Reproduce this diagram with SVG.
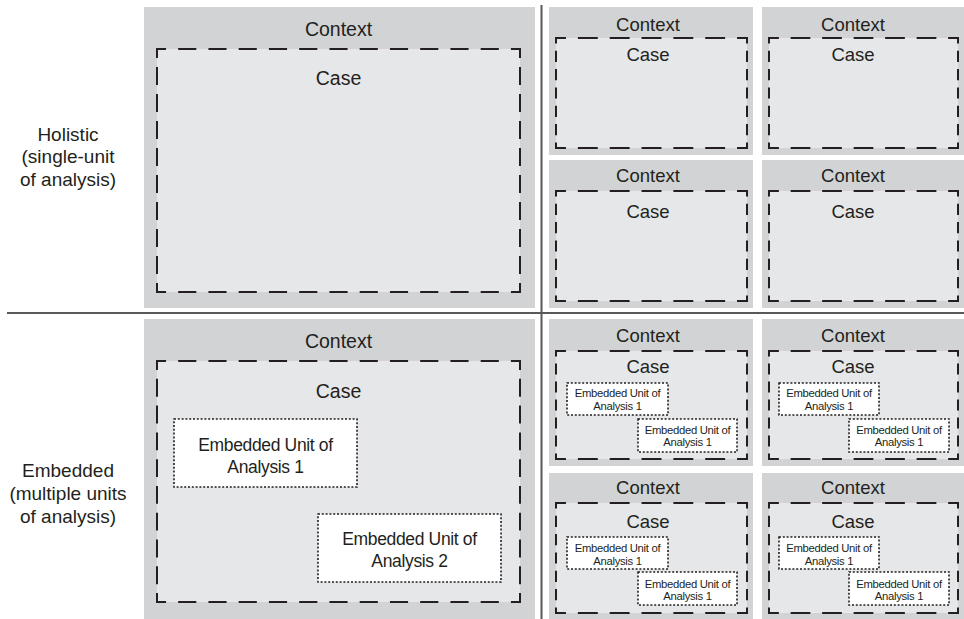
<svg xmlns="http://www.w3.org/2000/svg" width="964" height="619" viewBox="0 0 964 619">
  <defs>
    <style>
      .ctx { fill: #d1d3d4; }
      .case { fill: #e6e7e8; }
      .eu { fill: #ffffff; stroke: #231f20; stroke-width: 1.6; stroke-dasharray: 2 1.8; }
      .dh, .dv, .sh, .sv { stroke: #231f20; stroke-width: 2; fill: none; stroke-linecap: square; }
      /* big case boxes: 12 dashes across, 9 down */
      .dh { stroke-dasharray: 16 14; stroke-dashoffset: 8; }
      .dv { stroke-dasharray: 16 11; stroke-dashoffset: 8; }
      /* small case boxes: 6 dashes across, 6 down */
      .sh { stroke-dasharray: 18 14; stroke-dashoffset: 9; }
      .sv { stroke-dasharray: 9 9; stroke-dashoffset: 4.5; }
      .rule { stroke: #58595b; stroke-width: 2; fill: none; }
      text { font-family: "Liberation Sans", Arial, Helvetica, sans-serif; fill: #231f20; text-anchor: middle; }
      .t19 { font-size: 19.5px; }
      .t18 { font-size: 18.5px; }
      .t17 { font-size: 17.5px; letter-spacing: -0.35px; }
      .t11 { font-size: 11.3px; letter-spacing: -0.3px; }
      .lbl { font-size: 19px; }
    </style>
  </defs>

  <!-- row labels -->
  <g id="label-holistic">
    <text class="lbl" x="68" y="140.5">Holistic</text>
    <text class="lbl" x="68" y="163">(single-unit</text>
    <text class="lbl" x="68" y="185.5">of analysis)</text>
  </g>
  <g id="label-embedded">
    <text class="lbl" x="68" y="477">Embedded</text>
    <text class="lbl" x="68" y="500">(multiple units</text>
    <text class="lbl" x="68" y="523">of analysis)</text>
  </g>

  <!-- holistic, single case -->
  <g id="holistic-single">
    <rect class="ctx" x="144" y="7" width="391" height="301"/>
    <rect class="case" x="157" y="49" width="363" height="243"/>
    <line class="dh" x1="157" y1="49" x2="520" y2="49" pathLength="360"/>
    <line class="dh" x1="157" y1="292" x2="520" y2="292" pathLength="360"/>
    <line class="dv" x1="157" y1="49" x2="157" y2="292" pathLength="243"/>
    <line class="dv" x1="520" y1="49" x2="520" y2="292" pathLength="243"/>
    <text class="t19" x="338.5" y="36">Context</text>
    <text class="t19" x="338.5" y="85">Case</text>
  </g>

  <!-- holistic, multiple cases -->
  <g id="holistic-multi-1">
    <rect class="ctx" x="549" y="7" width="204" height="148"/>
    <rect class="case" x="556" y="38" width="191" height="110"/>
    <line class="sh" x1="556" y1="38" x2="747" y2="38" pathLength="192"/>
    <line class="sh" x1="556" y1="148" x2="747" y2="148" pathLength="192"/>
    <line class="sv" x1="556" y1="38" x2="556" y2="148" pathLength="108"/>
    <line class="sv" x1="747" y1="38" x2="747" y2="148" pathLength="108"/>
    <text class="t18" x="648" y="30.5">Context</text>
    <text class="t18" x="648" y="60.5">Case</text>
  </g>
  <g id="holistic-multi-2">
    <rect class="ctx" x="762" y="7" width="202" height="148"/>
    <rect class="case" x="769" y="38" width="189" height="110"/>
    <line class="sh" x1="769" y1="38" x2="958" y2="38" pathLength="192"/>
    <line class="sh" x1="769" y1="148" x2="958" y2="148" pathLength="192"/>
    <line class="sv" x1="769" y1="38" x2="769" y2="148" pathLength="108"/>
    <line class="sv" x1="958" y1="38" x2="958" y2="148" pathLength="108"/>
    <text class="t18" x="853" y="30.5">Context</text>
    <text class="t18" x="853" y="60.5">Case</text>
  </g>
  <g id="holistic-multi-3">
    <rect class="ctx" x="549" y="160" width="204" height="148"/>
    <rect class="case" x="556" y="191" width="191" height="110"/>
    <line class="sh" x1="556" y1="191" x2="747" y2="191" pathLength="192"/>
    <line class="sh" x1="556" y1="301" x2="747" y2="301" pathLength="192"/>
    <line class="sv" x1="556" y1="191" x2="556" y2="301" pathLength="108"/>
    <line class="sv" x1="747" y1="191" x2="747" y2="301" pathLength="108"/>
    <text class="t18" x="648" y="182.3">Context</text>
    <text class="t18" x="648" y="217.7">Case</text>
  </g>
  <g id="holistic-multi-4">
    <rect class="ctx" x="762" y="160" width="202" height="148"/>
    <rect class="case" x="769" y="191" width="189" height="110"/>
    <line class="sh" x1="769" y1="191" x2="958" y2="191" pathLength="192"/>
    <line class="sh" x1="769" y1="301" x2="958" y2="301" pathLength="192"/>
    <line class="sv" x1="769" y1="191" x2="769" y2="301" pathLength="108"/>
    <line class="sv" x1="958" y1="191" x2="958" y2="301" pathLength="108"/>
    <text class="t18" x="853" y="182.3">Context</text>
    <text class="t18" x="853" y="217.7">Case</text>
  </g>

  <!-- embedded, single case -->
  <g id="embedded-single">
    <rect class="ctx" x="144" y="319" width="391" height="300"/>
    <rect class="case" x="157" y="361" width="363" height="241"/>
    <line class="dh" x1="157" y1="361" x2="520" y2="361" pathLength="360"/>
    <line class="dh" x1="157" y1="602" x2="520" y2="602" pathLength="360"/>
    <line class="dv" x1="157" y1="361" x2="157" y2="602" pathLength="243"/>
    <line class="dv" x1="520" y1="361" x2="520" y2="602" pathLength="243"/>
    <text class="t19" x="338.5" y="348.3">Context</text>
    <text class="t19" x="338.5" y="398">Case</text>
    <rect class="eu" x="174" y="419" width="183" height="68"/>
    <text class="t17" x="265.5" y="450.5">Embedded Unit of</text>
    <text class="t17" x="265.5" y="472.5">Analysis 1</text>
    <rect class="eu" x="318" y="514" width="183" height="68"/>
    <text class="t17" x="409.5" y="545">Embedded Unit of</text>
    <text class="t17" x="409.5" y="567">Analysis 2</text>
  </g>

  <!-- embedded, multiple cases -->
  <g id="embedded-multi-1">
    <rect class="ctx" x="549" y="319" width="204" height="147"/>
    <rect class="case" x="556" y="351" width="191" height="108"/>
    <line class="sh" x1="556" y1="351" x2="747" y2="351" pathLength="192"/>
    <line class="sh" x1="556" y1="459" x2="747" y2="459" pathLength="192"/>
    <line class="sv" x1="556" y1="351" x2="556" y2="459" pathLength="108"/>
    <line class="sv" x1="747" y1="351" x2="747" y2="459" pathLength="108"/>
    <text class="t18" x="648" y="342.3">Context</text>
    <text class="t18" x="648" y="372.7">Case</text>
    <rect class="eu" x="567" y="383" width="101" height="32"/>
    <text class="t11" x="617.5" y="396.5">Embedded Unit of</text>
    <text class="t11" x="617.5" y="410">Analysis 1</text>
    <rect class="eu" x="638" y="419" width="99" height="33"/>
    <text class="t11" x="687.5" y="433.5">Embedded Unit of</text>
    <text class="t11" x="687.5" y="446">Analysis 1</text>
  </g>
  <g id="embedded-multi-2">
    <rect class="ctx" x="762" y="319" width="202" height="147"/>
    <rect class="case" x="769" y="351" width="189" height="108"/>
    <line class="sh" x1="769" y1="351" x2="958" y2="351" pathLength="192"/>
    <line class="sh" x1="769" y1="459" x2="958" y2="459" pathLength="192"/>
    <line class="sv" x1="769" y1="351" x2="769" y2="459" pathLength="108"/>
    <line class="sv" x1="958" y1="351" x2="958" y2="459" pathLength="108"/>
    <text class="t18" x="853" y="342.3">Context</text>
    <text class="t18" x="853" y="372.7">Case</text>
    <rect class="eu" x="779" y="383" width="100" height="32"/>
    <text class="t11" x="829" y="396.5">Embedded Unit of</text>
    <text class="t11" x="829" y="410">Analysis 1</text>
    <rect class="eu" x="849" y="419" width="100" height="33"/>
    <text class="t11" x="899" y="433.5">Embedded Unit of</text>
    <text class="t11" x="899" y="446">Analysis 1</text>
  </g>
  <g id="embedded-multi-3">
    <rect class="ctx" x="549" y="473" width="204" height="146"/>
    <rect class="case" x="556" y="503" width="191" height="110"/>
    <line class="sh" x1="556" y1="503" x2="747" y2="503" pathLength="192"/>
    <line class="sh" x1="556" y1="613" x2="747" y2="613" pathLength="192"/>
    <line class="sv" x1="556" y1="503" x2="556" y2="613" pathLength="108"/>
    <line class="sv" x1="747" y1="503" x2="747" y2="613" pathLength="108"/>
    <text class="t18" x="648" y="494.3">Context</text>
    <text class="t18" x="648" y="528.3">Case</text>
    <rect class="eu" x="567" y="537" width="101" height="32"/>
    <text class="t11" x="617.5" y="552">Embedded Unit of</text>
    <text class="t11" x="617.5" y="564.5">Analysis 1</text>
    <rect class="eu" x="638" y="572" width="99" height="33"/>
    <text class="t11" x="687.5" y="588">Embedded Unit of</text>
    <text class="t11" x="687.5" y="600">Analysis 1</text>
  </g>
  <g id="embedded-multi-4">
    <rect class="ctx" x="762" y="473" width="202" height="146"/>
    <rect class="case" x="769" y="503" width="189" height="110"/>
    <line class="sh" x1="769" y1="503" x2="958" y2="503" pathLength="192"/>
    <line class="sh" x1="769" y1="613" x2="958" y2="613" pathLength="192"/>
    <line class="sv" x1="769" y1="503" x2="769" y2="613" pathLength="108"/>
    <line class="sv" x1="958" y1="503" x2="958" y2="613" pathLength="108"/>
    <text class="t18" x="853" y="494.3">Context</text>
    <text class="t18" x="853" y="528.3">Case</text>
    <rect class="eu" x="779" y="537" width="100" height="32"/>
    <text class="t11" x="829" y="552">Embedded Unit of</text>
    <text class="t11" x="829" y="564.5">Analysis 1</text>
    <rect class="eu" x="849" y="572" width="100" height="33"/>
    <text class="t11" x="899" y="588">Embedded Unit of</text>
    <text class="t11" x="899" y="600">Analysis 1</text>
  </g>

  <!-- grid rules separating the four quadrants -->
  <g id="dividers">
    <line class="rule" x1="7" y1="313" x2="964" y2="313"/>
    <line class="rule" x1="541.5" y1="5" x2="541.5" y2="619"/>
  </g>
</svg>
